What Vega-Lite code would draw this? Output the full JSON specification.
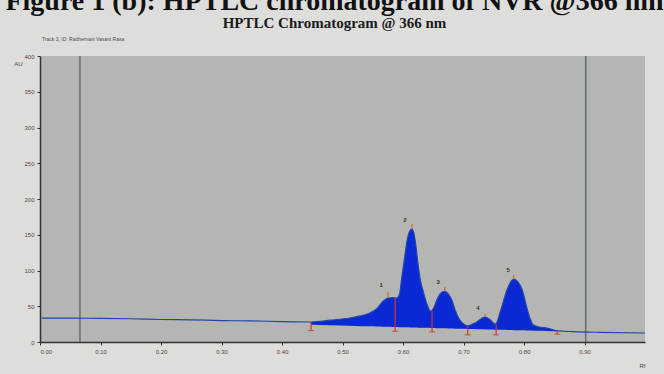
{
  "$schema": "https://vega.github.io/schema/vega-lite/v6.json",
  "width": 605,
  "height": 286,
  "autosize": "none",
  "padding": {"left": 40, "top": 56, "right": 19, "bottom": 32},
  "background": "#dddddb",
  "title": {
    "text": "Figure 1 (b): HPTLC chromatogram of NVR @366 nm",
    "subtitle": "HPTLC Chromatogram @ 366 nm",
    "font": "Liberation Serif",
    "fontSize": 28,
    "fontWeight": "bold",
    "color": "#111111",
    "subtitleFont": "Liberation Serif",
    "subtitleFontSize": 15,
    "subtitleFontWeight": "bold",
    "subtitleColor": "#1a1a1a",
    "subtitlePadding": 0,
    "anchor": "middle",
    "dx": -8,
    "offset": 6
  },
  "config": {
    "view": {"fill": "#b5b5b3", "stroke": null},
    "axis": {"grid": false, "labelFont": "Liberation Sans", "labelFontSize": 6, "labelColor": "#5a4444", "tickColor": "#333333", "domainColor": "#333333", "tickSize": 3, "labelOverlap": false, "titleFont": "Liberation Sans", "titleFontSize": 6, "titleColor": "#5a4444", "titleFontWeight": "normal"}
  },
  "datasets": {
    "profile": [
      {"rf": 0.003, "au": 33.5, "base": null},
      {"rf": 0.05, "au": 33.5, "base": null},
      {"rf": 0.10, "au": 33, "base": null},
      {"rf": 0.15, "au": 32.5, "base": null},
      {"rf": 0.20, "au": 31.5, "base": null},
      {"rf": 0.25, "au": 31, "base": null},
      {"rf": 0.30, "au": 30, "base": null},
      {"rf": 0.35, "au": 29.5, "base": null},
      {"rf": 0.40, "au": 28.5, "base": null},
      {"rf": 0.448, "au": 28, "base": 24},
      {"rf": 0.48, "au": 30.5, "base": 23.3},
      {"rf": 0.512, "au": 33.6, "base": 22.6},
      {"rf": 0.53, "au": 36.5, "base": 22.2},
      {"rf": 0.545, "au": 40.6, "base": 21.9},
      {"rf": 0.557, "au": 47, "base": 21.6},
      {"rf": 0.567, "au": 57, "base": 21.4},
      {"rf": 0.575, "au": 61.5, "base": 21.2},
      {"rf": 0.583, "au": 62, "base": 21.0},
      {"rf": 0.590, "au": 61.5, "base": 20.9},
      {"rf": 0.594, "au": 66, "base": 20.8},
      {"rf": 0.598, "au": 90, "base": 20.7},
      {"rf": 0.603, "au": 120, "base": 20.6},
      {"rf": 0.607, "au": 143, "base": 20.5},
      {"rf": 0.611, "au": 155, "base": 20.4},
      {"rf": 0.615, "au": 158, "base": 20.3},
      {"rf": 0.618, "au": 152, "base": 20.2},
      {"rf": 0.620, "au": 143, "base": 20.2},
      {"rf": 0.625, "au": 108, "base": 20.1},
      {"rf": 0.629, "au": 85, "base": 20.0},
      {"rf": 0.633, "au": 72, "base": 19.9},
      {"rf": 0.640, "au": 52, "base": 19.8},
      {"rf": 0.646, "au": 43, "base": 19.6},
      {"rf": 0.651, "au": 48, "base": 19.5},
      {"rf": 0.656, "au": 59, "base": 19.4},
      {"rf": 0.662, "au": 68, "base": 19.3},
      {"rf": 0.669, "au": 71, "base": 19.1},
      {"rf": 0.675, "au": 67, "base": 19.0},
      {"rf": 0.681, "au": 58, "base": 18.9},
      {"rf": 0.686, "au": 45, "base": 18.7},
      {"rf": 0.691, "au": 35, "base": 18.6},
      {"rf": 0.699, "au": 26, "base": 18.5},
      {"rf": 0.707, "au": 22.5, "base": 18.3},
      {"rf": 0.715, "au": 25, "base": 18.1},
      {"rf": 0.722, "au": 28, "base": 17.9},
      {"rf": 0.730, "au": 33, "base": 17.8},
      {"rf": 0.736, "au": 35, "base": 17.6},
      {"rf": 0.744, "au": 31, "base": 17.5},
      {"rf": 0.752, "au": 25, "base": 17.3},
      {"rf": 0.756, "au": 29, "base": 17.2},
      {"rf": 0.760, "au": 40, "base": 17.1},
      {"rf": 0.766, "au": 57, "base": 17.0},
      {"rf": 0.772, "au": 73, "base": 16.8},
      {"rf": 0.778, "au": 84, "base": 16.7},
      {"rf": 0.783, "au": 88, "base": 16.6},
      {"rf": 0.789, "au": 85, "base": 16.5},
      {"rf": 0.797, "au": 73, "base": 16.3},
      {"rf": 0.805, "au": 47, "base": 16.1},
      {"rf": 0.810, "au": 33, "base": 16.0},
      {"rf": 0.815, "au": 24, "base": 15.9},
      {"rf": 0.825, "au": 21, "base": 15.7},
      {"rf": 0.838, "au": 19.5, "base": 15.4},
      {"rf": 0.855, "au": 15.5, "base": 15.0},
      {"rf": 0.88, "au": 14.5, "base": null},
      {"rf": 0.926, "au": 13.5, "base": null},
      {"rf": 1.0, "au": 12.6, "base": null}
    ],
    "bounds": [
      {"rf": 0.448, "top": 28, "bottom": 16},
      {"rf": 0.587, "top": 61.5, "bottom": 15},
      {"rf": 0.648, "top": 43, "bottom": 14},
      {"rf": 0.707, "top": 22.5, "bottom": 10},
      {"rf": 0.754, "top": 25, "bottom": 10},
      {"rf": 0.855, "top": 15.5, "bottom": 11}
    ],
    "peaks": [
      {"peak": "1", "rf": 0.575, "top": 62, "tip": 70, "lx": 0.564, "ly": 80},
      {"peak": "2", "rf": 0.615, "top": 158, "tip": 165, "lx": 0.603, "ly": 171},
      {"peak": "3", "rf": 0.669, "top": 71, "tip": 77, "lx": 0.658, "ly": 84},
      {"peak": "4", "rf": 0.736, "top": 35, "tip": 40, "lx": 0.724, "ly": 48},
      {"peak": "5", "rf": 0.783, "top": 88, "tip": 94, "lx": 0.774, "ly": 101}
    ],
    "marks": [
      {"rf": 0.066},
      {"rf": 0.902}
    ],
    "track": [
      {"label": "Track 3, ID: Radhemani Vasant Rasa", "rf": 0.0, "au": 424}
    ]
  },
  "layer": [
    {
      "data": {"name": "marks"},
      "mark": {"type": "rule", "color": "#5b6f82", "strokeWidth": 1.5},
      "encoding": {
        "x": {"field": "rf", "type": "quantitative", "scale": {"domain": [0, 1.0], "nice": false}, "axis": {"values": [0, 0.1, 0.2, 0.3, 0.4, 0.5, 0.6, 0.7, 0.8, 0.9], "format": ".2f", "title": "Rf", "titleAnchor": "end", "titleAlign": "right", "titlePadding": 8, "labelPadding": 3, "domainWidth": 1.5}}
      }
    },
    {
      "data": {"name": "profile"},
      "transform": [{"filter": "isValid(datum.base)"}],
      "mark": {"type": "area", "color": "#0a29d4", "interpolate": "monotone", "opacity": 1},
      "encoding": {
        "x": {"field": "rf", "type": "quantitative"},
        "y": {"field": "au", "type": "quantitative", "scale": {"domain": [0, 400], "nice": false}, "axis": {"tickCount": 8, "labelOverlap": false, "labelFlush": false, "title": "AU", "titleAngle": 0, "titleX": -22, "titleY": 10, "labelPadding": 3, "domainWidth": 1.5}},
        "y2": {"field": "base"}
      }
    },
    {
      "data": {"name": "profile"},
      "mark": {"type": "line", "color": "#2446a8", "strokeWidth": 1.2, "interpolate": "monotone"},
      "encoding": {
        "x": {"field": "rf", "type": "quantitative"},
        "y": {"field": "au", "type": "quantitative"}
      }
    },
    {
      "data": {"name": "bounds"},
      "mark": {"type": "rule", "color": "#c83a28", "strokeWidth": 1.2},
      "encoding": {
        "x": {"field": "rf", "type": "quantitative"},
        "y": {"field": "top", "type": "quantitative"},
        "y2": {"field": "bottom"}
      }
    },
    {
      "data": {"name": "bounds"},
      "mark": {"type": "tick", "color": "#c83a28", "orient": "horizontal", "size": 6, "thickness": 1.2},
      "encoding": {
        "x": {"field": "rf", "type": "quantitative"},
        "y": {"field": "bottom", "type": "quantitative"}
      }
    },
    {
      "data": {"name": "peaks"},
      "mark": {"type": "rule", "color": "#c86a40", "strokeWidth": 1.2},
      "encoding": {
        "x": {"field": "rf", "type": "quantitative"},
        "y": {"field": "top", "type": "quantitative"},
        "y2": {"field": "tip"}
      }
    },
    {
      "data": {"name": "peaks"},
      "mark": {"type": "text", "font": "Liberation Sans", "fontSize": 6, "fontWeight": "bold", "color": "#333333"},
      "encoding": {
        "x": {"field": "lx", "type": "quantitative"},
        "y": {"field": "ly", "type": "quantitative"},
        "text": {"field": "peak"}
      }
    },
    {
      "data": {"name": "track"},
      "mark": {"type": "text", "font": "Liberation Sans", "fontSize": 5, "color": "#4a4a4a", "align": "left", "dx": 2},
      "encoding": {
        "x": {"field": "rf", "type": "quantitative"},
        "y": {"field": "au", "type": "quantitative"},
        "text": {"field": "label"}
      }
    }
  ]
}
